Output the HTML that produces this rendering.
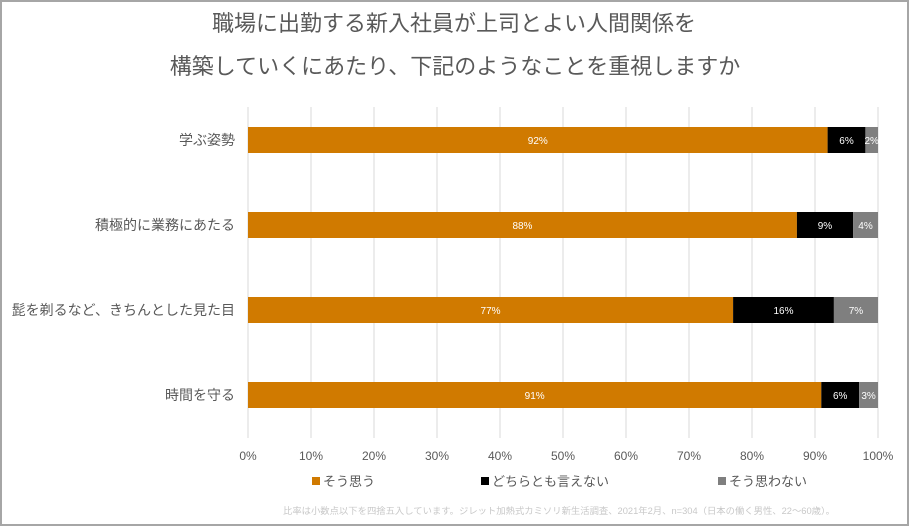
<!DOCTYPE html>
<html><head><meta charset="utf-8">
<style>
body{margin:0;background:#fff;}
#wrap{position:relative;width:905px;height:522px;border:2px solid #a6a6a6;background:#fff;font-family:"Liberation Sans","Noto Sans CJK JP",sans-serif;overflow:hidden;}
svg text{font-family:"Liberation Sans","Noto Sans CJK JP",sans-serif;}
</style></head><body>
<div id="wrap">
<svg id="chart" width="905" height="522"></svg>
</div>
<script>
const categories=["学ぶ姿勢","積極的に業務にあたる","髭を剃るなど、きちんとした見た目","時間を守る"];
const seriesNames=["そう思う","どちらとも言えない","そう思わない"];
const agree=[92,88,77,91];
const neutral=[6,9,16,6];
const disagree=[2,4,7,3];
const ticks=[0,10,20,30,40,50,60,70,80,90,100];
const colors=["#d07a00","#000000","#7f7f7f"];
const NS="http://www.w3.org/2000/svg";
const svg=document.getElementById('chart');
const X0=246,X1=876;
const x=v=>X0+(X1-X0)*v/100;
const y=i=>125+i*85;
const BH=26;
function mk(t,a,txt){const e=document.createElementNS(NS,t);for(const k in a)e.setAttribute(k,a[k]);if(txt!=null)e.textContent=txt;svg.appendChild(e);return e;}
let e;
e=mk('text',{x:452,y:29,'text-anchor':'middle','font-size':22,fill:'#595959'},'職場に出勤する新入社員が上司とよい人間関係を');


e=mk('text',{x:453,y:72,'text-anchor':'middle','font-size':22,fill:'#595959'},'構築していくにあたり、下記のようなことを重視しますか');


ticks.forEach(t=>{
 e=mk('line',{x1:x(t),x2:x(t),y1:105,y2:436,stroke:'#d9d9d9','stroke-width':1});
 
 
 e=mk('text',{x:x(t),y:458,'text-anchor':'middle','font-size':12,fill:'#595959'},t+'%');
 
 
});
const series=[agree,neutral,disagree];
categories.forEach((c,i)=>{
 e=mk('text',{x:233,y:y(i)+BH/2+5,'text-anchor':'end','font-size':14,fill:'#595959'},c);
 
 
 const total=agree[i]+neutral[i]+disagree[i];
 let acc=0;
 series.forEach((s,k)=>{
  const v=s[i];const a=acc*100/total,b=(acc+v)*100/total;acc+=v;
  e=mk('rect',{x:x(a),y:y(i),width:Math.max(0,x(b)-x(a)),height:BH,fill:colors[k]});
  
  
  e=mk('text',{x:(x(a)+x(b))/2,y:y(i)+BH/2+4,'text-anchor':'middle','font-size':10,fill:'#fff'},v+'%');
  
  
 });
});
const lx=[310,479,716];
seriesNames.forEach((n,k)=>{
 e=mk('rect',{x:lx[k],y:475,width:8,height:8,fill:colors[k]});
 
 
 e=mk('text',{x:lx[k]+11,y:484,'font-size':13,fill:'#595959'},n);
 
 
});
e=mk('text',{x:281,y:512,'font-size':9,fill:'#c8c8c8',textLength:552,lengthAdjust:'spacingAndGlyphs'},'比率は小数点以下を四捨五入しています。ジレット加熱式カミソリ新生活調査、2021年2月、n=304（日本の働く男性、22〜60歳）。');


</script>
</body></html>
